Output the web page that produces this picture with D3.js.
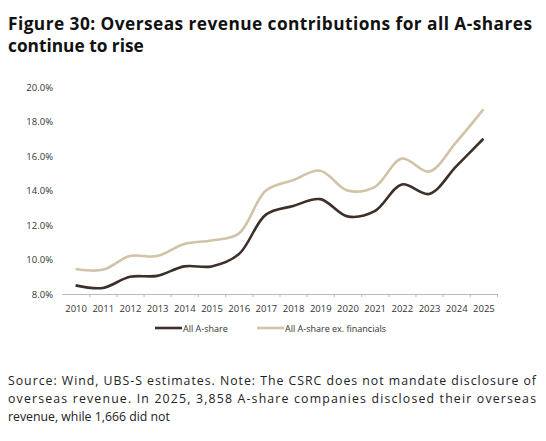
<!DOCTYPE html>
<html><head><meta charset="utf-8">
<script src="https://cdn.jsdelivr.net/npm/d3@7"></script>
<style>
body{margin:0;background:#fff;font-family:"Open Sans",sans-serif;}
</style></head>
<body><div id="chart"></div>
<script>
const years = ["2010","2011","2012","2013","2014","2015","2016","2017","2018","2019","2020","2021","2022","2023","2024","2025"];
const allShare = [8.5,8.35,9.0,9.05,9.6,9.6,10.3,12.6,13.1,13.5,12.5,12.8,14.35,13.8,15.4,17.0];
const exFin = [9.45,9.4,10.2,10.2,10.9,11.1,11.5,14.0,14.6,15.15,14.0,14.2,15.85,15.1,16.8,18.7];
const yTicks = [8,10,12,14,16,18,20];

const svg = d3.select("#chart").append("svg").attr("width",546).attr("height",441);

svg.append("text").attr("x",8).attr("y",30).attr("font-size",17.3).attr("font-weight","bold").attr("fill","#111")
  .attr("textLength",524).text("Figure 30: Overseas revenue contributions for all A-shares");
svg.append("text").attr("x",8).attr("y",52).attr("font-size",17.3).attr("font-weight","bold").attr("fill","#111")
  .text("continue to rise");

const x = d3.scalePoint().domain(years).range([62,497]).padding(0.5);
const y = d3.scaleLinear().domain([8,20]).range([294,87]);

const xAxis = svg.append("g").attr("transform","translate(0,294)")
  .call(d3.axisBottom(x).tickSize(3));
xAxis.select(".domain").attr("stroke","#bbb").attr("d","M62,0.5H497");
xAxis.selectAll(".tick line").attr("stroke","#bbb").attr("transform",`translate(${x.step()/2},0)`);
xAxis.selectAll("text").attr("font-size",9.5).attr("fill","#333").attr("font-family","Open Sans").attr("dy","1.3em");

const yAxis = svg.append("g").attr("transform","translate(56,0)")
  .call(d3.axisLeft(y).tickValues(yTicks).tickSize(0).tickFormat(d=>d.toFixed(1)+"%"));
yAxis.select(".domain").remove();
yAxis.selectAll("text").attr("font-size",9.5).attr("fill","#333").attr("font-family","Open Sans");

const line = d3.line().x((d,i)=>x(years[i])).y(d=>y(d)).curve(d3.curveCatmullRom.alpha(0.5));
svg.append("path").datum(exFin).attr("d",line).attr("fill","none").attr("stroke","#d0c3a6").attr("stroke-width",2.6);
svg.append("path").datum(allShare).attr("d",line).attr("fill","none").attr("stroke","#3d302a").attr("stroke-width",2.6);

const leg = [["All A-share","#3d302a",155],["All A-share ex. financials","#d0c3a6",257]];
leg.forEach(([t,c,lx])=>{
  svg.append("line").attr("x1",lx).attr("x2",lx+27).attr("y1",328).attr("y2",328).attr("stroke",c).attr("stroke-width",2.6);
  svg.append("text").attr("x",lx+28).attr("y",331.5).attr("font-size",9).attr("fill","#333").text(t);
});

const src = ["Source: Wind, UBS-S estimates. Note: The CSRC does not mandate disclosure of",
  "overseas revenue. In 2025, 3,858 A-share companies disclosed their overseas",
  "revenue, while 1,666 did not"];
src.forEach((s,i)=>svg.append("text").attr("x",8).attr("y",385+i*18).attr("font-size",12.3).attr("fill","#222")
  .attr("textLength",i<2?528:null).text(s));
</script></body></html>
